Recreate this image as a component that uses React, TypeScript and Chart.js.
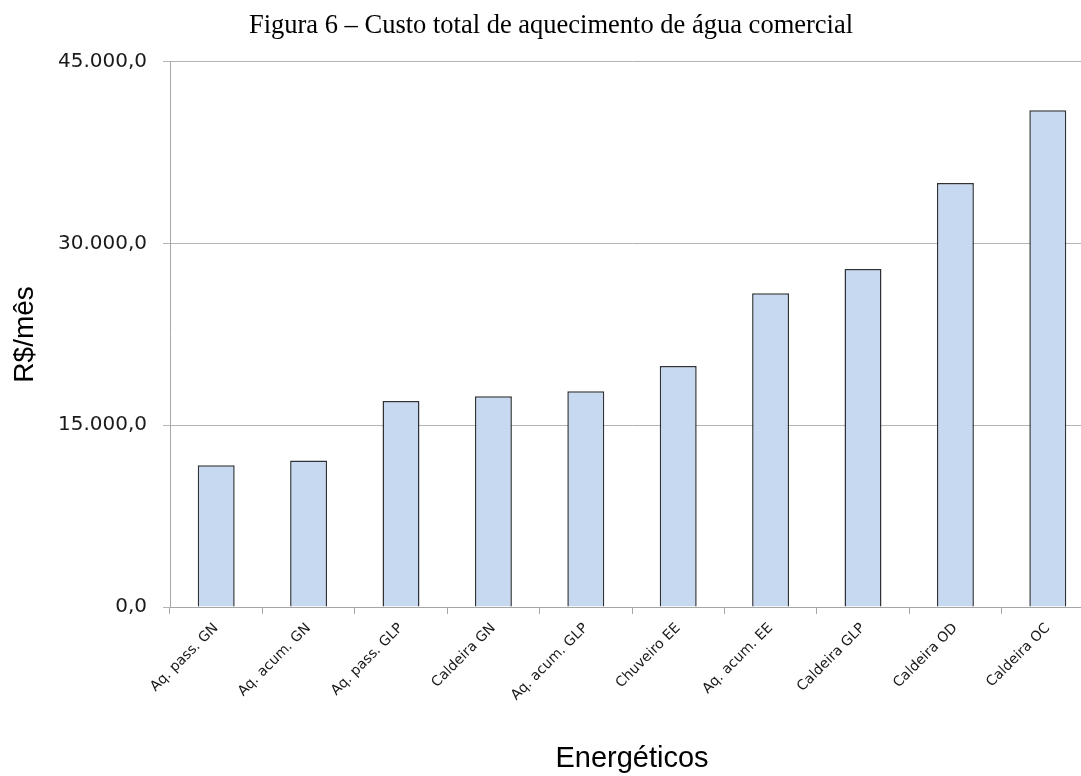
import React, { useEffect, useRef } from "react";
import { Chart, registerables } from "chart.js";

Chart.register(...registerables);

const categories: string[] = [
  "Aq. pass. GN",
  "Aq. acum. GN",
  "Aq. pass. GLP",
  "Caldeira GN",
  "Aq. acum. GLP",
  "Chuveiro EE",
  "Aq. acum. EE",
  "Caldeira GLP",
  "Caldeira OD",
  "Caldeira OC",
];

const custoMensal: number[] = [11700, 12100, 17000, 17400, 17800, 19900, 25900, 27900, 35000, 41000];

const yTicks: number[] = [0, 15000, 30000, 45000];

const titleText = "Figura 6 – Custo total de aquecimento de água comercial";
const yTitle = "R$/mês";
const xTitle = "Energéticos";

function formatBR(v: number): string {
  const fixed = Math.abs(v).toFixed(1);
  const [intPart, dec] = fixed.split(".");
  const withDots = intPart.replace(/\B(?=(\d{3})+(?!\d))/g, ".");
  return (v < 0 ? "-" : "") + withDots + "," + dec;
}

export default function App() {
  const ref = useRef<HTMLCanvasElement | null>(null);

  useEffect(() => {
    if (!ref.current) return;
    const chart = new Chart(ref.current, {
      type: "bar",
      data: {
        labels: categories,
        datasets: [
          {
            data: custoMensal,
            backgroundColor: "#C6D9F0",
            borderColor: "#2f3236",
            borderWidth: 1.5,
            barPercentage: 0.4,
            categoryPercentage: 1,
          },
        ],
      },
      options: {
        responsive: false,
        animation: false,
        devicePixelRatio: 1,
        layout: { padding: { left: 8, right: 0, top: 0, bottom: 0 } },
        plugins: {
          legend: { display: false },
          tooltip: { enabled: false },
          title: {
            display: true,
            text: titleText,
            color: "#000000",
            font: { family: "'Liberation Serif', 'Times New Roman', serif", size: 26.5, weight: "normal" },
            padding: { top: 10, bottom: 20 },
          },
        },
        scales: {
          x: {
            type: "category",
            offset: true,
            afterFit: (s: any) => {
              s.height = 169;
            },
            grid: {
              offset: true,
              drawOnChartArea: false,
              drawTicks: true,
              tickLength: 7,
              color: "#A6A6A6",
              lineWidth: 1,
            },
            border: { display: true, color: "#A6A6A6", width: 1 },
            ticks: {
              minRotation: 45,
              maxRotation: 45,
              autoSkip: false,
              padding: 6,
              color: "#1a1a1a",
              font: { family: "'DejaVu Sans', Verdana, sans-serif", size: 14 },
            },
            title: {
              display: true,
              text: xTitle,
              color: "#000000",
              font: { family: "'Liberation Sans', Arial, sans-serif", size: 29 },
              padding: { top: 0, bottom: 0 },
            },
          },
          y: {
            min: 0,
            max: 45000,
            afterFit: (s: any) => {
              s.width = 162;
            },
            afterBuildTicks: (s: any) => {
              s.ticks = yTicks.map((v) => ({ value: v }));
            },
            grid: {
              color: "#B3B3B3",
              lineWidth: 1,
              tickLength: 7,
              drawTicks: true,
            },
            border: { display: true, color: "#A6A6A6", width: 1 },
            ticks: {
              padding: 16,
              color: "#1a1a1a",
              font: { family: "'DejaVu Sans', Verdana, sans-serif", size: 20 },
              callback: (v: any) => formatBR(Number(v)),
            },
            title: {
              display: true,
              text: yTitle,
              color: "#000000",
              font: { family: "'Liberation Sans', Arial, sans-serif", size: 28 },
              padding: { top: 0, bottom: 0 },
            },
          },
        },
      },
    });
    return () => chart.destroy();
  }, []);

  return (
    <div
      style={{
        position: "absolute",
        left: 0,
        top: 0,
        width: 1081,
        height: 776,
        overflow: "hidden",
        background: "#ffffff",
      }}
    >
      <canvas ref={ref} width={1094} height={776} style={{ display: "block", width: 1094, height: 776 }} />
    </div>
  );
}
